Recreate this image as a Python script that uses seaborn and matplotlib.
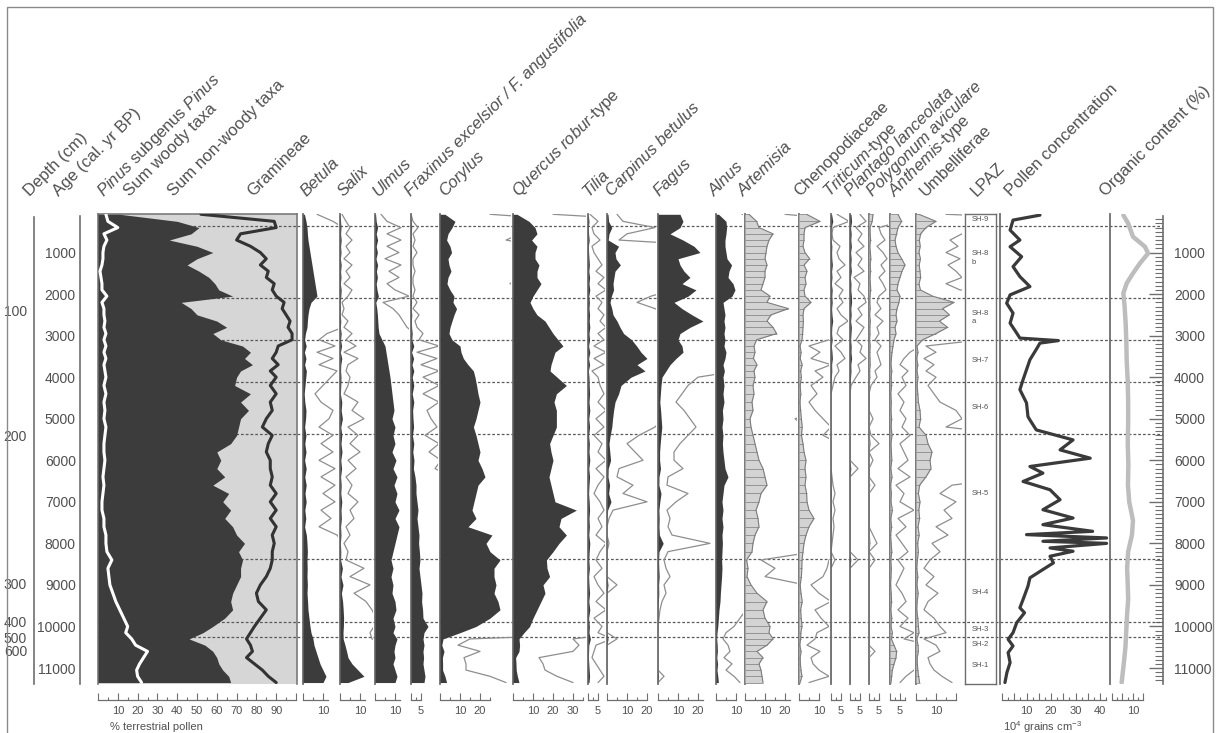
import numpy as np
import matplotlib
matplotlib.use("Agg")
import matplotlib.pyplot as plt
import seaborn as sns
from matplotlib.patches import Rectangle

sns.set_theme(style="white")
plt.rcParams['font.family'] = ['Liberation Sans', 'DejaVu Sans']
plt.rcParams['mathtext.fontset'] = 'custom'
plt.rcParams['mathtext.rm'] = 'Liberation Sans'
plt.rcParams['mathtext.it'] = 'Liberation Sans:italic'
plt.rcParams['mathtext.bf'] = 'Liberation Sans:bold'

# ---------------------------------------------------------------- data
ages = [80, 250, 400, 550, 700, 850, 1000, 1150, 1300, 1450,
        1600, 1750, 1900, 2050, 2200, 2350, 2500, 2650, 2800, 2950,
        3100, 3250, 3400, 3550, 3700, 3850, 4000, 4200, 4400, 4600,
        4800, 5000, 5200, 5400, 5600, 5800, 6000, 6200, 6400, 6600,
        6800, 7000, 7200, 7400, 7600, 7800, 8000, 8200, 8400, 8600,
        8800, 9000, 9200, 9400, 9600, 9800, 10000, 10150, 10300, 10450,
        10600, 10750, 10900, 11050, 11200, 11350]

sum_woody = [11, 40, 51, 47, 36, 50, 58, 50, 45, 51,
             56, 59, 61, 68, 42, 47, 50, 60, 65, 58,
             62, 73, 77, 74, 78, 72, 70, 69, 77, 72,
             76, 72, 71, 70, 67, 60, 62, 60, 64, 58,
             66, 63, 67, 64, 68, 70, 74, 71, 73, 72,
             72, 70, 68, 67, 68, 64, 58, 53, 46, 54,
             58, 60, 61, 63, 66, 67]

gramineae = [52, 89, 90, 72, 70, 77, 82, 85, 82, 86,
             85, 89, 88, 90, 94, 93, 95, 97, 96, 98,
             98, 91, 90, 88, 91, 87, 90, 87, 90, 87,
             88, 85, 83, 88, 86, 85, 87, 87, 88, 87,
             90, 87, 90, 87, 90, 88, 89, 88, 88, 87,
             85, 82, 80, 81, 85, 82, 79, 77, 75, 77,
             78, 75, 79, 83, 86, 90]

pinus = [4, 5, 10, 3, 4.5, 3, 2.5, 2.5, 2, 1,
         1.5, 2, 2, 4.5, 2, 3, 3, 3.5, 3, 4,
         3, 4, 3, 4, 3, 3.5, 4, 3, 4, 3,
         3.5, 3, 4, 3.5, 3, 3, 3.5, 3, 2.5, 3,
         2.5, 2, 2, 3, 3, 4, 4, 4.5, 7, 5,
         5.5, 6, 7.5, 9, 11, 13, 15, 14, 17, 19,
         25, 23, 21, 19.5, 20, 22]

betula = [0.7, 1.5, 2.0, 2.2, 2.5, 3, 3.5, 4, 4.5, 5,
          5.5, 6, 6.5, 7, 4, 3, 2.5, 2.2, 2, 1.2,
          0.8, 1.6, 0.7, 1.5, 0.8, 1.7, 1.4, 1.0, 0.6, 0.9,
          1.5, 1.3, 0.8, 1.5, 0.9, 1.5, 0.8, 1.6, 0.9, 1.6,
          1.0, 1.6, 0.9, 1.4, 0.8, 1.7, 2.0, 2.2, 2.0, 2.1,
          2.0, 2.2, 2.0, 2.3, 2.5, 3, 3.5, 4, 5, 5.5,
          6.5, 7.5, 8.5, 10, 11.5, 10]

salix = [0.1, 0.3, 0.5, 0.3, 0.6, 0.3, 0.5, 0.2, 0.6, 0.3,
         0.5, 0.2, 0.6, 0.4, 0.1, 0.2, 0.1, 0.4, 0.2, 0.6,
         0.3, 0.8, 0.2, 0.9, 0.4, 0.3, 0.5, 0.4, 0.2, 0.9,
         0.6, 1.2, 0.4, 0.9, 0.5, 1.0, 0.4, 0.8, 0.3, 0.6,
         0.4, 0.9, 0.5, 0.7, 0.3, 0.5, 0.2, 0.4, 0.3, 1.2,
         0.5, 1.5, 0.7, 1.3, 1.6, 1.8, 1.7, 1.5, 1.6, 2.5,
         3.3, 4, 6, 9, 12, 4]

ulmus = [0.3, 0.6, 1.3, 0.6, 1.3, 0.6, 1.2, 0.5, 1.3, 0.7,
         1.2, 0.6, 1.0, 1.7, 0.4, 0.9, 1.2, 1.4, 1.6, 2.0,
         3.5, 5.0, 5.5, 6, 6.5, 7, 7.5, 8, 8.5, 9,
         9.5, 8.5, 10, 9, 10, 8.5, 10.5, 9, 11, 9.5,
         11, 10, 12, 10, 12, 11, 10, 9, 8, 9,
         8, 9, 8.5, 10, 10.5, 9, 10, 9, 11, 10,
         9.5, 10, 9, 10, 11, 10]

fraxinus = [0.0, 0.1, 0.35, 0.1, 0.2, 0.1, 0.3, 0.1, 0.1, 0.2,
            0.1, 0.1, 0.2, 0.1, 0.3, 0.1, 0.4, 0.2, 0.3, 0.6,
            0.4, 1.4, 0.3, 1.3, 0.5, 1.4, 0.6, 1.4, 0.6, 1.4,
            0.8, 1.0, 1.3, 0.7, 1.4, 0.9, 1.5, 1.2, 2.0, 2.5,
            2.5, 3.0, 3.5, 3.0, 3.5, 4.0, 3.8, 4.2, 4.5, 4.0,
            4.5, 5.0, 5.5, 5.3, 5.8, 6.0, 8.5, 6.5, 6.0, 6.5,
            6.0, 6.3, 6.0, 6.5, 7.0, 6.5]

corylus = [2.5, 7.5, 6, 4, 3.3, 5, 5.8, 4, 4.5, 5.5,
           4, 3.5, 5, 7, 6.5, 8.3, 7, 6, 5, 4.5,
           6, 10, 10.5, 11.7, 14, 16.7, 17.5, 18.3, 19, 20,
           19, 18, 16.7, 18, 19, 20, 19, 21, 22.5, 19,
           18, 17, 16, 18, 14, 26, 23, 25, 30, 27,
           27, 28, 27, 29, 30, 25, 18, 10, 1.5, 0.9,
           2.0, 1.2, 1.3, 1.3, 2.5, 3.3]

quercus = [2, 8, 11, 12, 9.3, 12, 11, 11, 13, 12,
           12, 14, 12, 10, 8.5, 10, 12, 16, 18, 20,
           22.5, 25, 21, 20, 19, 18.5, 22, 26.7, 21.7, 20.5,
           21.7, 21.7, 21.7, 20, 18.3, 19, 20, 19, 18, 19,
           20, 21, 31.7, 24, 23, 26.7, 23, 20, 16.7, 17,
           18.3, 15, 16, 14, 12, 10, 8.3, 5.5, 3.0, 3.3,
           3.0, 1.3, 1.5, 1.6, 2.2, 3.0]

tilia = [0.1, 0.5, 0.2, 0.3, 0.6, 0.2, 0.3, 0.5, 0.7, 0.4,
         0.8, 0.5, 0.9, 0.4, 0.7, 0.5, 0.8, 0.6, 0.9, 0.5,
         0.8, 0.3, 0.9, 0.3, 0.8, 0.2, 0.5, 0.6, 0.8, 0.5,
         0.9, 0.4, 0.8, 0.3, 0.7, 0.5, 0.9, 0.4, 0.8, 0.5,
         0.3, 0.6, 0.8, 0.5, 0.7, 0.4, 0.9, 0.6, 0.4, 0.7,
         0.3, 0.5, 0.8, 0.4, 0.9, 0.3, 0.7, 0.5, 1.2, 0.4,
         0.3, 0.2, 0.4, 0.6, 0.8, 0.5]

carpinus = [0.5, 0.8, 2.4, 1.0, 0.6, 5.8, 4, 4.5, 6.7, 4,
            3.5, 3, 3.3, 2.2, 1.5, 2.4, 3, 5, 6.5, 8.3,
            12.3, 14.8, 17, 20, 15, 19, 12, 7, 5.8, 4,
            3.3, 2.8, 2.4, 1.6, 1.0, 1.4, 1.8, 0.6, 0.5, 1.3,
            0.8, 2.0, 0.3, 0.1, 0, 0, 0.1, 0, 0, 0,
            0, 0.5, 0, 0, 0, 0, 0, 0, 0.5, 0,
            0, 0, 0, 0, 0, 0]

fagus = [11, 12.5, 11, 6, 12.5, 18, 21, 10, 11, 13,
         16, 12, 19, 15, 8, 12, 17, 22.5, 16, 11,
         10, 12, 12.5, 9, 6, 4, 2, 1.5, 1.2, 0.9,
         1.3, 1.6, 1.9, 1.5, 1.1, 0.8, 0.8, 1.25, 0.5, 0.45,
         1.5, 0.9, 0.45, 0.6, 0.5, 0.7, 2.6, 0.5, 0.3, 0.4,
         0.6, 0.3, 0.4, 0.2, 0.1, 0.05, 0, 0, 0, 0,
         0, 0, 0, 0, 0.3, 0]

alnus = [1.3, 5, 5.3, 5, 4.5, 4.5, 5, 5.5, 7.8, 6.5,
         6, 8.5, 9.5, 8, 3.5, 4, 4.5, 4, 4.5, 4,
         4.5, 4, 5, 4.5, 3.5, 4.2, 3.5, 4, 3.5, 4,
         3.2, 3.5, 3, 3.5, 3.2, 3.5, 4, 4.5, 6, 4,
         3.5, 3, 3.5, 3, 3.5, 3, 3.2, 3, 2.8, 3,
         2.8, 2.5, 2.2, 2, 1.5, 1.2, 0.9, 0.5, 0.35, 0.6,
         0.7, 0.4, 0.8, 0.5, 0.9, 1.2]

artemisia = [2, 5.8, 7, 14, 12, 11, 10.5, 10, 11, 10,
             10, 9, 8, 12.5, 11, 21.7, 13, 11, 14, 15.8,
             5.8, 4.5, 5, 4.2, 6, 4.5, 5, 4, 4.5, 3.5,
             4, 2.5, 3, 4, 5, 6, 7, 9, 10, 11,
             8, 7, 5.5, 6.5, 7, 5, 4, 3.5, 0.8, 1.5,
             1.0, 3, 6, 11, 9, 10, 12.5, 12, 14, 11,
             6, 9, 7, 8, 8.5, 9]

chenopodiaceae = [3.8, 10.5, 3, 2.5, 2.5, 2, 3, 5.3, 2.5, 4,
                  3, 3.5, 2.5, 3, 6, 2.5, 2, 2.2, 2, 1.8,
                  1.5, 0.5, 1.05, 0.6, 1.6, 0.8, 1.2, 0.6, 0.9, 0.5,
                  0.8, 1.2, 1.6, 1.2, 2, 2.5, 3.5, 3, 3.5, 3,
                  3.8, 4, 5, 7.5, 5, 3.5, 2.5, 2, 1.5, 1.4,
                  1.2, 0.6, 1.0, 1.6, 0.8, 1.1, 1.5, 0.9, 0.8, 0.4,
                  1.05, 0.6, 0.7, 1.0, 1.5, 0.5]

triticum = [0.3, 0.9, 0.1, 0.05, 0.1, 0.45, 0.3, 0.4, 0.7, 0.3,
            0.5, 0.2, 0.6, 0.4, 0.6, 0.3, 0.5, 0.85, 0.4, 0.3,
            0.6, 0.2, 0.5, 0.7, 0.3, 0.4, 0.2, 0.1, 0, 0,
            0, 0, 0, 0, 0, 0, 0, 0, 0.05, 0.1,
            0.2, 0.1, 0.2, 0.1, 0.15, 0.1, 0.05, 0, 0.2, 0,
            0, 0, 0, 0, 0, 0, 0, 0, 0, 0,
            0, 0, 0, 0, 0, 0]

plantago = [0.5, 0.8, 0.3, 0.6, 0.4, 0.7, 0.3, 0.6, 0.4, 0.7,
            0.2, 0.5, 0.4, 0.7, 0.8, 0.4, 0.6, 0.3, 0.7, 0.5,
            0.3, 0.6, 0.5, 0.8, 0.4, 0.5, 0.3, 0.05, 0, 0,
            0, 0, 0, 0, 0, 0, 0, 0.4, 0, 0,
            0, 0, 0, 0, 0, 0, 0, 0, 0.4, 0,
            0, 0, 0, 0, 0, 0, 0, 0, 0, 0,
            0, 0, 0, 0, 0, 0]

polygonum = [2.0, 1.6, 0.5, 0.6, 0.8, 0.4, 0.7, 0.9, 0.6, 0.8,
             0.5, 0.7, 0.85, 0.5, 0.4, 0.6, 0.3, 0.7, 0.4, 0.5,
             0.3, 0.6, 0.4, 0.5, 0.6, 0.3, 0.4, 0.1, 0, 0,
             0, 0.2, 0, 0.1, 0.5, 0, 0.2, 0, 0, 0.3,
             0, 0, 0, 0, 0, 0.2, 0.4, 0, 0.3, 0,
             0, 0, 0, 0, 0, 0, 0, 0, 0, 0,
             0.3, 0, 0, 0, 0, 0]

anthemis = [4, 5.8, 4, 3.3, 2.5, 3, 4, 5.8, 7.5, 6,
            5, 4, 3.5, 5, 4.5, 3.5, 3, 3.5, 2.5, 3,
            2, 1.5, 1.0, 0.7, 0.5, 0.9, 0.6, 0.8, 0.4, 0.7,
            0.5, 0.8, 0.6, 1.0, 0.5, 0.7, 0.9, 0.4, 1.0, 0.3,
            0.7, 0.5, 1.2, 0.4, 0.8, 0.3, 0.6, 0.9, 0.4, 0.7,
            0.5, 0.3, 0.6, 0.8, 0.4, 0.9, 0.5, 1.2, 0.7, 2.0,
            3.3, 3.0, 2.0, 1.2, 0.8, 0.5]

umbelliferae = [1.5, 10, 5, 2.3, 1.7, 2.1, 1.5, 2.2, 1.6, 2.0,
                2.3, 1.5, 2.2, 8.3, 19, 13.3, 16.7, 11.7, 15.8, 10,
                3.3, 0.5, 1.0, 0.4, 0.9, 0.5, 1.0, 0.6, 0.9, 1.2,
                2.0, 2.3, 1.5, 5, 6, 8, 7, 7.5, 5, 1.8,
                1.2, 2.0, 1.4, 1.8, 1.0, 1.6, 0.8, 1.2, 0.7, 0.4,
                0.9, 0.5, 1.1, 0.6, 0.4, 0.9, 1.2, 1.5, 0.4, 1.0,
                1.2, 0.6, 0.7, 0.9, 1.3, 1.8]

pc_ages = [100, 220, 460, 700, 860, 1100, 1340, 1580, 1820, 2020,
           2220, 2460, 2700, 2940, 3060, 3120, 3180, 3340, 3580, 3820,
           4060, 4300, 4620, 4950, 5030, 5270, 5510, 5750, 5950, 6150,
           6310, 6510, 6710, 6950, 7190, 7390, 7550, 7710, 7790, 7870,
           7950, 8000, 8110, 8190, 8310, 8470, 8630, 8830, 9030, 9350,
           9550, 9670, 9910, 10150, 10310, 10470, 10630, 10870, 11110, 11350]
pollen_conc = [15.5, 4.5, 3.3, 7.3, 3.3, 8, 4.5, 7.3, 11.4, 3.3,
               1.9, 4.5, 3.3, 6, 7.3, 23, 15.5, 13.9, 11.4, 10,
               8.6, 7.3, 10, 10.6, 11.4, 14, 29, 23.7, 36, 11.4,
               16.7, 8.6, 19.6, 23.7, 16.7, 29, 16.7, 37, 10, 42.7,
               16.7, 42.7, 19.6, 29, 19.6, 21, 16.7, 11.4, 10.6, 8.6,
               7.3, 9.2, 6, 4.5, 2.5, 4.5, 2.5, 3.3, 2.0, 1.2]

org_ages = [100, 300, 620, 860, 1020, 1260, 1500, 1740, 1980, 2300,
            2700, 3100, 3600, 4100, 4600, 5100, 5600, 6100, 6600, 7000,
            7450, 7800, 8200, 8600, 9000, 9350, 9700, 10100, 10500, 10900, 11350]
organic = [5.4, 7.7, 10, 15.7, 17.2, 13.3, 10, 7, 5.4, 6,
           6.5, 6.8, 7, 7.5, 7.7, 7.7, 7.5, 7.8, 7.6, 8.2,
           10, 9.5, 7.7, 7.2, 7.5, 7.7, 7.2, 6.8, 6.4, 5.6, 4.6]

zone_bounds = [363, 2100, 3100, 4120, 5370, 8375, 9900, 10260]
zone_names = ["SH-9", "SH-8\nb", "SH-8\na", "SH-7", "SH-6", "SH-5", "SH-4", "SH-3", "SH-2", "SH-1"]
zone_label_ages = [215, 1130, 2570, 3590, 4720, 6810, 9190, 10085, 10430, 10930]

depth_ticks = [100, 200, 300, 400, 500, 600]
depth_tick_ages = [2384, 5409, 8978, 9886, 10254, 10584]
age_major = [1000, 2000, 3000, 4000, 5000, 6000, 7000, 8000, 9000, 10000, 11000]

# (values, x0 px, x1 px, style, tick max, major, minor, labelled ticks)
panels = [
    (betula, 303, 338, 'dark', 12.5, 10, 5, [10]),
    (salix, 340, 373, 'dark', 12.5, 10, 5, [10]),
    (ulmus, 375, 409, 'dark', 12.5, 10, 5, [10]),
    (fraxinus, 411, 438, 'dark', 5, 5, 2.5, [5]),
    (corylus, 440, 511, 'dark', 25, 10, 5, [10, 20]),
    (quercus, 513, 586, 'dark', 35, 10, 5, [10, 20, 30]),
    (tilia, 588, 605, 'dark', 5, 5, 2.5, [5]),
    (carpinus, 607, 656, 'dark', 20, 10, 5, [10, 20]),
    (fagus, 658, 714, 'dark', 22.5, 10, 5, [10, 20]),
    (alnus, 716, 743, 'dark', 10, 10, 5, [10]),
    (artemisia, 745, 797, 'hatch', 22.5, 10, 5, [10, 20]),
    (chenopodiaceae, 799, 829, 'hatch', 10, 10, 5, [10]),
    (triticum, 831, 848, 'dark', 5, 5, 2.5, [5]),
    (plantago, 850, 868, 'dark', 5, 5, 2.5, [5]),
    (polygonum, 869, 888, 'hatch', 5, 5, 2.5, [5]),
    (anthemis, 890, 914, 'hatch', 7.5, 5, 2.5, [5]),
    (umbelliferae, 916, 962, 'hatch', 20, 10, 5, [10]),
]

header = [
    ("Depth (cm)", 30, 'normal'),
    ("Age (cal. yr BP)", 59, 'normal'),
    (r"$\mathit{Pinus}$ subgenus $\mathit{Pinus}$", 103, 'normal'),
    ("Sum woody taxa", 130, 'normal'),
    ("Sum non-woody taxa", 174, 'normal'),
    ("Gramineae", 253, 'normal'),
    ("Betula", 306, 'italic'),
    ("Salix", 344, 'italic'),
    ("Ulmus", 379, 'italic'),
    ("Fraxinus excelsior / F. angustifolia", 411, 'italic'),
    ("Corylus", 445, 'italic'),
    (r"$\mathit{Quercus\ robur}$-type", 518, 'normal'),
    ("Tilia", 589, 'italic'),
    ("Carpinus betulus", 612, 'italic'),
    ("Fagus", 659, 'italic'),
    ("Alnus", 715, 'italic'),
    ("Artemisia", 744, 'italic'),
    ("Chenopodiaceae", 800, 'normal'),
    (r"$\mathit{Triticum}$-type", 829, 'normal'),
    ("Plantago lanceolata", 851, 'italic'),
    ("Polygonum aviculare", 873, 'italic'),
    (r"$\mathit{Anthemis}$-type", 894, 'normal'),
    ("Umbelliferae", 926, 'normal'),
    ("LPAZ", 977, 'normal'),
    ("Pollen concentration", 1011, 'normal'),
    ("Organic content (%)", 1106, 'normal'),
]

# ---------------------------------------------------------------- style
W, H = 1217, 733
TOP, BOT = 214, 684
AGE_TOP, AGE_BOT = 73, 11385
PX_PER_PCT = 2.0
OUT_PT = 16 * 72 / 100          # 16 px below the panels, expressed in points
DARK = '#3c3c3c'
LIGHT = '#d6d6d6'
AXC = '#6e6e6e'
TXT = '#505050'
HOLLOW = '#8e8e8e'
EXAG = 10

fig = plt.figure(figsize=(W / 100, H / 100), dpi=100)
fig.patch.set_facecolor('white')


def panel(x0, x1, z=2):
    ax = fig.add_axes([x0 / W, 1 - BOT / H, (x1 - x0) / W, (BOT - TOP) / H])
    ax.set_zorder(z)
    ax.patch.set_visible(False)
    for s in ax.spines.values():
        s.set_visible(False)
    ax.tick_params(left=False, labelleft=False, bottom=False, labelbottom=False,
                   right=False, top=False)
    ax.grid(False)
    return ax


def line(ax, x, y, **kw):
    sns.lineplot(x=np.asarray(x, float), y=np.asarray(y, float), orient='y',
                 sort=False, estimator=None, ax=ax, legend=False, **kw)


def baseline(ax):
    ax.spines['left'].set_visible(True)
    ax.spines['left'].set_color(AXC)
    ax.spines['left'].set_linewidth(1.3)


def bottom_axis(ax, tmax, major, minor, labels):
    sp = ax.spines['bottom']
    sp.set_visible(True)
    sp.set_position(('outward', OUT_PT))
    sp.set_bounds(0, tmax)
    sp.set_color(AXC)
    sp.set_linewidth(0.9)
    mj = np.arange(0, tmax + 1e-6, major)
    mn = np.arange(0, tmax + 1e-6, minor)
    ax.set_xticks(mj)
    ax.set_xticklabels([str(int(round(t))) if round(t, 3) in labels else '' for t in mj])
    ax.set_xticks(mn, minor=True)
    ax.tick_params(axis='x', which='major', bottom=True, labelbottom=True, direction='in',
                   length=5, width=0.8, color=AXC, labelsize=8, labelcolor=TXT, pad=4)
    ax.tick_params(axis='x', which='minor', bottom=True, direction='in',
                   length=2.5, width=0.8, color=AXC)


# zone boundary lines (behind all panels)
ov = fig.add_axes([297 / W, 1 - BOT / H, (1163 - 297) / W, (BOT - TOP) / H])
ov.set_zorder(1)
ov.set_xlim(0, 1)
ov.set_ylim(AGE_BOT, AGE_TOP)
ov.axis('off')
for b in zone_bounds:
    ov.axhline(b, color='#5a5a5a', lw=0.9, ls=(0, (2.2, 1.6)))

# ---- summary panel
ax = panel(98, 297)
ax.patch.set_visible(True)
ax.patch.set_facecolor(LIGHT)
for s in ax.spines.values():
    s.set_visible(True)
    s.set_color('#7a7a7a')
    s.set_linewidth(1.2)
for b in zone_bounds:
    ax.axhline(b, color='#5a5a5a', lw=0.9, ls=(0, (2.2, 1.6)), zorder=2)
ax.fill_betweenx(ages, 0, sum_woody, color=DARK, lw=0, zorder=3)
line(ax, gramineae, ages, color='#333333', linewidth=2.2, zorder=4)
line(ax, pinus, ages, color='white', linewidth=2.2, zorder=4)
ax.set_xlim(0, 100.5)
ax.set_ylim(AGE_BOT, AGE_TOP)
bottom_axis(ax, 100, 10, 5, [10, 20, 30, 40, 50, 60, 70, 80, 90])

# ---- percentage panels
for vals, x0, x1, style, tmax, mj, mn, labs in panels:
    ax = panel(x0, x1)
    v = np.asarray(vals, float)
    if style == 'dark':
        ax.fill_betweenx(ages, 0, v, color=DARK, lw=0, zorder=3)
    else:
        ax.fill_betweenx(ages, 0, v, color='#d3d3d3', lw=0, zorder=3)
        ax.hlines(ages, 0, v, color='#8a8a8a', lw=0.6, zorder=3.5)
        line(ax, v, ages, color='#7c7c7c', linewidth=0.8, zorder=3.6)
    line(ax, v * EXAG, ages, color=HOLLOW, linewidth=0.9, zorder=2.5)
    baseline(ax)
    ax.set_xlim(0, (x1 - x0) / PX_PER_PCT)
    ax.set_ylim(AGE_BOT, AGE_TOP)
    bottom_axis(ax, tmax, mj, mn, labs)

# ---- LPAZ box
ax = panel(965, 996)
for s in ax.spines.values():
    s.set_visible(True)
    s.set_color(AXC)
    s.set_linewidth(1.0)
ax.set_xlim(0, 1)
ax.set_ylim(AGE_BOT, AGE_TOP)
for name, a in zip(zone_names, zone_label_ages):
    ax.text(0.2, a, name, fontsize=5.5, color=TXT, ha='left', va='center', linespacing=1.3)

# ---- pollen concentration
ax = panel(1000, 1110)
baseline(ax)
line(ax, pollen_conc, pc_ages, color='#3a3a3a', linewidth=2.3, zorder=3)
ax.set_xlim(-0.82, 44.08)
ax.set_ylim(AGE_BOT, AGE_TOP)
bottom_axis(ax, 42.5, 5, 2.5, [10, 20, 30, 40])

# ---- organic content
ax = panel(1110, 1160)
baseline(ax)
line(ax, organic, org_ages, color='#bdbdbd', linewidth=3.2, zorder=3)
ax.set_xlim(-0.95, 22.86)
ax.set_ylim(AGE_BOT, AGE_TOP)
bottom_axis(ax, 15, 5, 2.5, [10])

# ---- depth axis
axd = fig.add_axes([34 / W, 1 - BOT / H, 1 / W, (BOT - TOP) / H])
axd.patch.set_visible(False)
for s in ['top', 'right', 'bottom']:
    axd.spines[s].set_visible(False)
axd.spines['left'].set_color(AXC)
axd.spines['left'].set_linewidth(1.2)
axd.set_ylim(AGE_BOT, AGE_TOP)
axd.spines['left'].set_bounds(140, AGE_BOT)
axd.set_yticks(depth_tick_ages)
axd.set_yticklabels([str(d) for d in depth_ticks])
axd.tick_params(axis='y', direction='out', length=4, width=1, color=AXC,
                labelsize=10, labelcolor=TXT, pad=1)
axd.tick_params(axis='x', bottom=False, labelbottom=False)
axd.set_xticks([])

# ---- left age axis
axa = fig.add_axes([80 / W, 1 - BOT / H, 1 / W, (BOT - TOP) / H])
axa.patch.set_visible(False)
for s in ['top', 'right', 'bottom']:
    axa.spines[s].set_visible(False)
axa.spines['left'].set_color(AXC)
axa.spines['left'].set_linewidth(1.2)
axa.set_ylim(AGE_BOT, AGE_TOP)
axa.spines['left'].set_bounds(130, AGE_BOT)
axa.set_yticks(age_major)
axa.set_yticklabels([str(a) for a in age_major])
axa.set_yticks(np.arange(200, 11400, 100), minor=True)
axa.tick_params(axis='y', which='major', direction='in', length=8, width=1, color=AXC,
                labelsize=10, labelcolor=TXT, pad=3)
axa.tick_params(axis='y', which='minor', direction='in', length=4, width=0.8, color=AXC)
axa.set_xticks([])

# ---- right age axis
axr = fig.add_axes([1162 / W, 1 - BOT / H, 1 / W, (BOT - TOP) / H])
axr.patch.set_visible(False)
for s in ['top', 'left', 'bottom']:
    axr.spines[s].set_visible(False)
axr.spines['right'].set_color(AXC)
axr.spines['right'].set_linewidth(1.2)
axr.set_ylim(AGE_BOT, AGE_TOP)
axr.spines['right'].set_bounds(130, AGE_BOT)
axr.yaxis.tick_right()
axr.set_yticks(age_major)
axr.set_yticklabels([str(a) for a in age_major])
axr.set_yticks(np.arange(200, 11400, 100), minor=True)
axr.tick_params(axis='y', which='major', direction='in', length=10, width=1, color=AXC,
                labelsize=10, labelcolor=TXT, pad=8, left=False, right=True,
                labelleft=False, labelright=True)
axr.tick_params(axis='y', which='minor', direction='in', length=6, width=0.8, color=AXC,
                left=False, right=True)
axr.set_xticks([])

# ---- header labels
for txt, x, st in header:
    fig.text(x / W, 1 - 197 / H, txt, rotation=45, rotation_mode='anchor',
             ha='left', va='baseline', fontsize=12, color=TXT, fontstyle=st)

fig.text(110 / W, 1 - 727 / H, "% terrestrial pollen", fontsize=8, color=TXT,
         ha='left', va='center')
fig.text(1003 / W, 1 - 727 / H, r"10$^4$ grains cm$^{-3}$", fontsize=8, color=TXT,
         ha='left', va='center')

# outer frame
fig.add_artist(Rectangle((7 / W, -0.01), (1213 - 7) / W, (H - 7) / H + 0.01,
                         transform=fig.transFigure, fill=False, ec='#8a8a8a', lw=1.0))

fig.savefig("out.png", dpi=100, facecolor='white')
